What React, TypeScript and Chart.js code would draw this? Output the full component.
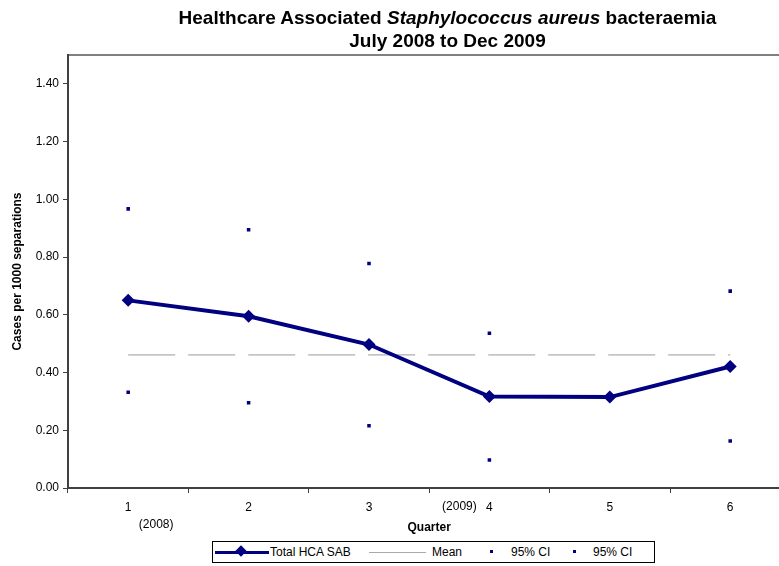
import React, { useEffect, useRef } from 'react';
import { Chart, registerables } from 'chart.js';

Chart.register(...registerables);

const quarters = ['1', '2', '3', '4', '5', '6'];
const totalHcaSab = [0.65, 0.595, 0.497, 0.317, 0.315, 0.421];
const meanValues = [0.461, 0.461, 0.461, 0.461, 0.461, 0.461];
const ciUpper = [0.967, 0.895, 0.778, 0.536, null, 0.682];
const ciLower = [0.332, 0.295, 0.216, 0.097, null, 0.163];
const yTickValues = [0, 0.2, 0.4, 0.6, 0.8, 1.0, 1.2, 1.4];
const yearNotes = [
  { index: 0, text: '(2008)', dx: 28, row: 1 },
  { index: 3, text: '(2009)', dx: -30, row: 0 },
];

const FONT = '"Liberation Sans", Arial, sans-serif';
const NAVY = '#000080';

const extrasPlugin = {
  id: 'extras',
  beforeDraw(chart: any) {
    const { ctx, chartArea } = chart;
    const { left, top, right, bottom } = chartArea;
    ctx.save();
    ctx.strokeStyle = '#808080';
    ctx.lineWidth = 2;
    ctx.strokeRect(left, top, right - left, bottom - top);
    ctx.restore();
  },
  afterDraw(chart: any) {
    const { ctx } = chart;
    const xs = chart.scales.x;
    ctx.save();
    ctx.font = '12px ' + FONT;
    ctx.fillStyle = '#000';
    ctx.textAlign = 'center';
    ctx.textBaseline = 'middle';
    yearNotes.forEach((n) => {
      const x = xs.getPixelForValue(n.index) + n.dx;
      const y = n.row === 0 ? 507 : 525;
      ctx.fillText(n.text, x, y);
    });
    ctx.restore();
  },
};

function App() {
  const ref = useRef<HTMLCanvasElement | null>(null);

  useEffect(() => {
    if (!ref.current) return;
    Chart.defaults.font.family = FONT;
    const chart = new Chart(ref.current, {
      type: 'line',
      data: {
        labels: quarters,
        datasets: [
          {
            label: 'Total HCA SAB',
            data: totalHcaSab,
            borderColor: NAVY,
            backgroundColor: NAVY,
            borderWidth: 4,
            pointStyle: 'rectRot',
            pointRadius: 6.5,
            pointBorderWidth: 0,
            tension: 0,
          },
          {
            label: 'Mean',
            data: meanValues,
            borderColor: '#999999',
            borderWidth: 1,
            borderDash: [47, 13],
            pointRadius: 0,
          },
          {
            label: '95% CI',
            data: ciUpper,
            showLine: false,
            pointStyle: 'rect',
            pointRadius: 2.5,
            pointBorderWidth: 0,
            backgroundColor: NAVY,
            borderColor: NAVY,
          },
          {
            label: '95% CI',
            data: ciLower,
            showLine: false,
            pointStyle: 'rect',
            pointRadius: 2.5,
            pointBorderWidth: 0,
            backgroundColor: NAVY,
            borderColor: NAVY,
          },
        ],
      },
      options: {
        animation: false,
        responsive: false,
        maintainAspectRatio: false,
        layout: { padding: { left: 1, right: 9.6, top: 55, bottom: 0 } },
        plugins: {
          legend: { display: false },
          tooltip: { enabled: false },
          title: { display: false },
        },
        scales: {
          x: {
            type: 'category',
            offset: true,
            grid: {
              offset: true,
              drawOnChartArea: false,
              color: '#404040',
              tickLength: 5,
            },
            border: { color: '#404040', width: 2 },
            ticks: { color: '#000', font: { size: 12 }, padding: 7, maxRotation: 0 },
            title: {
              display: true,
              text: 'Quarter',
              color: '#000',
              font: { size: 12, weight: 'bold' },
              padding: { top: 0, bottom: 31 },
            },
            afterFit: (scale: any) => {
              scale.height = 78;
            },
          },
          y: {
            min: 0,
            max: 1.5,
            grid: {
              drawOnChartArea: false,
              color: '#404040',
              tickLength: 5,
            },
            border: { color: '#404040', width: 2 },
            afterBuildTicks: (scale: any) => {
              scale.ticks = yTickValues.map((v) => ({ value: v }));
            },
            ticks: {
              color: '#000',
              font: { size: 12 },
              padding: 4,
              callback: (v: any) => Number(v).toFixed(2),
            },
            title: {
              display: true,
              text: 'Cases per 1000 separations',
              color: '#000',
              font: { size: 12, weight: 'bold' },
              padding: { top: 9, bottom: 0 },
            },
            afterFit: (scale: any) => {
              scale.width = 67;
            },
          },
        },
      },
      plugins: [extrasPlugin],
    });
    return () => chart.destroy();
  }, []);

  const textStyle: React.CSSProperties = {
    position: 'absolute',
    top: 0,
    height: 20,
    lineHeight: '20px',
    fontSize: 12,
    fontFamily: FONT,
    color: '#000',
    whiteSpace: 'nowrap',
  };

  return (
    <div
      style={{
        position: 'absolute',
        left: 0,
        top: 0,
        width: 779,
        height: 566,
        overflow: 'hidden',
        background: '#fff',
      }}
    >
      <canvas ref={ref} width={800} height={566} style={{ position: 'absolute', left: 0, top: 0, width: 800, height: 566 }} />
      <div
        style={{
          position: 'absolute',
          left: 0,
          top: 6,
          width: 895,
          textAlign: 'center',
          fontFamily: FONT,
          fontWeight: 'bold',
          fontSize: 19,
          lineHeight: '23px',
          color: '#000',
          whiteSpace: 'nowrap',
        }}
      >
        <div>
          Healthcare Associated <i>Staphylococcus aureus</i> bacteraemia
        </div>
        <div>July 2008 to Dec 2009</div>
      </div>
      <div
        style={{
          position: 'absolute',
          left: 212,
          top: 541,
          width: 441,
          height: 20,
          border: '1px solid #000',
          background: '#fff',
        }}
      >
        <div style={{ position: 'absolute', left: 2, top: 8.5, width: 54, height: 3, background: NAVY }} />
        <div
          style={{
            position: 'absolute',
            left: 24,
            top: 5,
            width: 8,
            height: 8,
            background: NAVY,
            transform: 'rotate(45deg)',
          }}
        />
        <div style={{ ...textStyle, left: 57 }}>Total HCA SAB</div>
        <div style={{ position: 'absolute', left: 156, top: 9.5, width: 57, height: 1, background: '#aaaaaa' }} />
        <div style={{ ...textStyle, left: 219 }}>Mean</div>
        <div style={{ position: 'absolute', left: 277, top: 8, width: 3, height: 3, background: NAVY }} />
        <div style={{ ...textStyle, left: 298 }}>95% CI</div>
        <div style={{ position: 'absolute', left: 360, top: 8, width: 3, height: 3, background: NAVY }} />
        <div style={{ ...textStyle, left: 380 }}>95% CI</div>
      </div>
    </div>
  );
}

export default App;
